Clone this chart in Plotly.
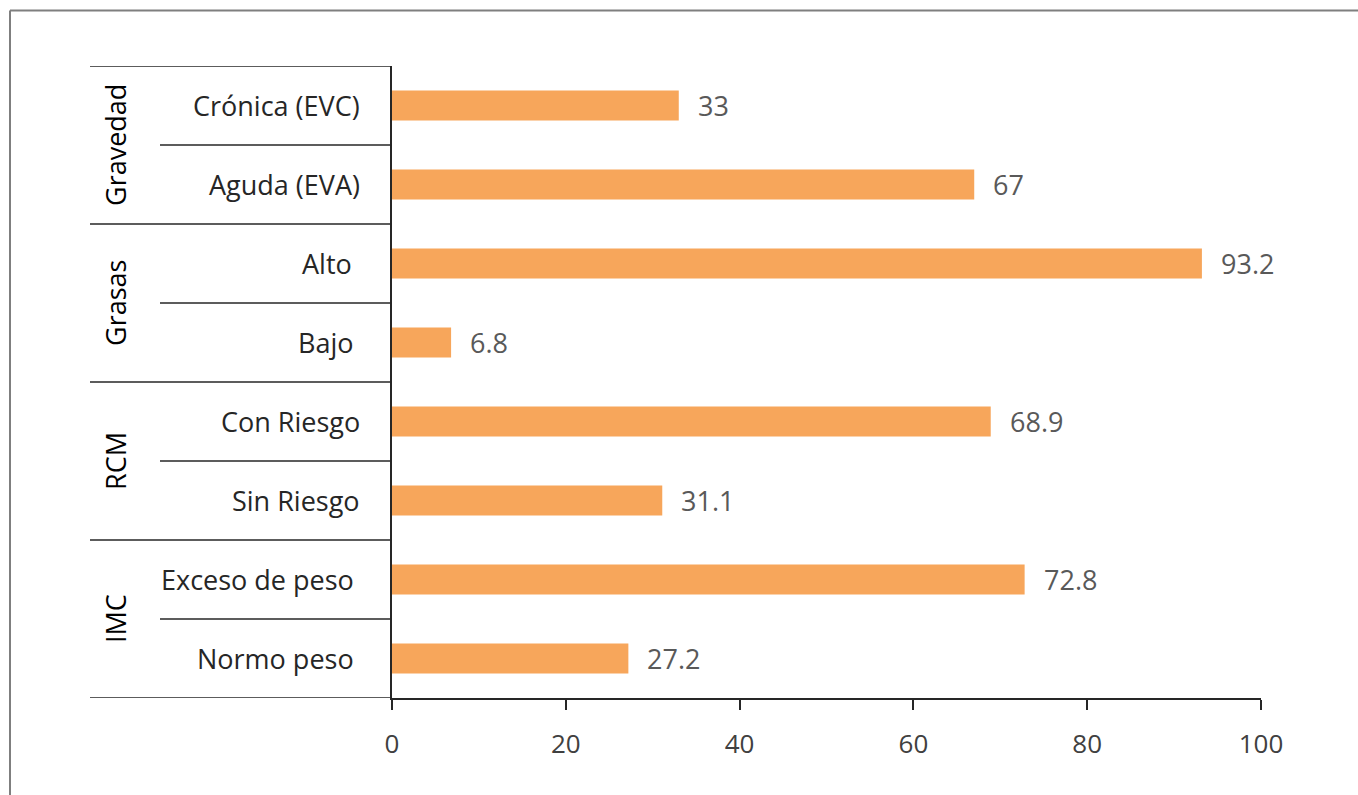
import plotly.graph_objects as go

# Data (bottom to top)
categories = ["Normo peso", "Exceso de peso", "Sin Riesgo", "Con Riesgo",
              "Bajo", "Alto", "Aguda (EVA)", "Crónica (EVC)"]
values = [27.2, 72.8, 31.1, 68.9, 6.8, 93.2, 67, 33]
value_labels = ["27.2", "72.8", "31.1", "68.9", "6.8", "93.2", "67", "33"]
groups = ["IMC", "RCM", "Grasas", "Gravedad"]
group_size = 2
x_ticks = [0, 20, 40, 60, 80, 100]

W, H = 1358, 795
L, R, T, B = 392, 97, 66, 97
pw, ph = W - L - R, H - T - B

def px_x(p):
    return (p - L) / pw

def px_y(p):
    return (H - B - p) / ph

BAR = "#F7A65B"
FONT = "'Open Sans', Lato, sans-serif"
TXT = "#262626"
LBL = "#595959"

fig = go.Figure(go.Bar(
    x=values, y=list(range(len(categories))), orientation="h",
    marker=dict(color=BAR, line=dict(width=0)),
    hoverinfo="skip",
))

ann = []
shapes = []
# data labels
for i, (v, t) in enumerate(zip(values, value_labels)):
    ann.append(dict(x=v, y=i, xref="x", yref="y", text=t, showarrow=False,
                    xanchor="left", yanchor="middle", xshift=17,
                    font=dict(family=FONT, size=27, color=LBL)))
# category labels
label_shift = [-36, -36, -30, -30, -36, -38, -30, -30]
for i, c in enumerate(categories):
    ann.append(dict(x=0, y=i, xref="x", yref="y", text=c, showarrow=False,
                    xanchor="right", yanchor="middle", xshift=label_shift[i],
                    font=dict(family=FONT, size=27, color=TXT)))
# group labels
for g, name in enumerate(groups):
    yc = g * group_size + (group_size - 1) / 2
    ann.append(dict(x=px_x(115), y=yc, xref="paper", yref="y", text=name,
                    showarrow=False, textangle=-90, xanchor="center",
                    yanchor="middle",
                    font=dict(family=FONT, size=27, color="#000000")))

LINE = dict(color="#262626", width=1.5)
# horizontal separators
for k in range(len(categories) + 1):
    yb = k - 0.5
    x0 = px_x(90) if k % group_size == 0 else px_x(160)
    shapes.append(dict(type="line", xref="paper", yref="y", x0=x0, x1=0,
                       y0=yb, y1=yb, line=LINE))
# outer chart border (top and left)
BORDER = dict(color="#7F7F7F", width=2)
shapes.append(dict(type="line", xref="paper", yref="paper",
                   x0=px_x(10), x1=px_x(W + 5), y0=px_y(10.5), y1=px_y(10.5), line=BORDER))
shapes.append(dict(type="line", xref="paper", yref="paper",
                   x0=px_x(10), x1=px_x(10), y0=px_y(10.5), y1=px_y(H + 5), line=BORDER))

fig.update_layout(
    width=W, height=H,
    margin=dict(l=L, r=R, t=T, b=B, pad=0),
    paper_bgcolor="white", plot_bgcolor="white",
    showlegend=False,
    bargap=0.62,
    annotations=ann, shapes=shapes,
    font=dict(family=FONT),
)
fig.update_xaxes(range=[0, 100], tickvals=x_ticks, ticktext=[str(v) for v in x_ticks],
                 showgrid=False, zeroline=False, showline=True,
                 linecolor="#262626", linewidth=1.5,
                 ticks="outside", ticklen=10, tickcolor="#262626", tickwidth=1.5,
                 ticklabelstandoff=12,
                 tickfont=dict(family=FONT, size=26, color="#404040"),
                 fixedrange=True)
fig.update_yaxes(range=[-0.5, len(categories) - 0.5], showticklabels=False,
                 showgrid=False, zeroline=False, showline=True,
                 linecolor="#262626", linewidth=1.5, ticks="",
                 fixedrange=True)

fig.write_html("out.html")
